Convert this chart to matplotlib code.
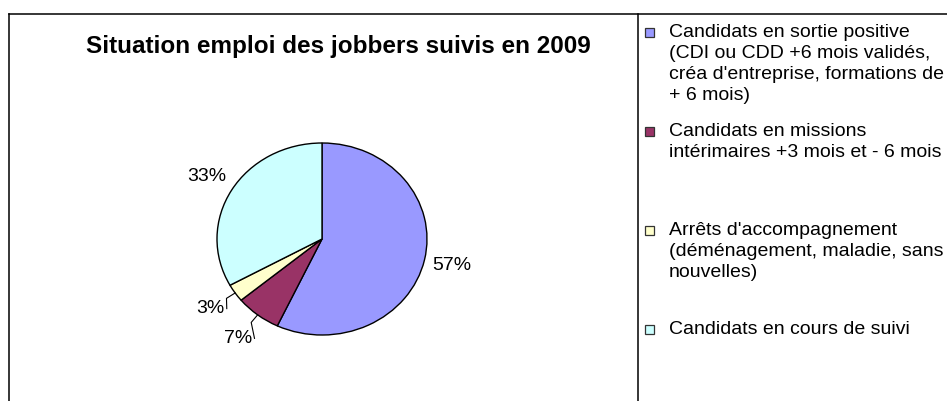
import matplotlib
matplotlib.use("Agg")
import matplotlib.pyplot as plt
from matplotlib.lines import Line2D
from matplotlib.patches import Rectangle
import numpy as np

plt.rcParams['font.family'] = ['Liberation Sans', 'DejaVu Sans']

title = "Situation emploi des jobbers suivis en 2009"
categories = [
    "Candidats en sortie positive\n(CDI ou CDD +6 mois validés,\ncréa d'entreprise, formations de\n+ 6 mois)",
    "Candidats en missions\nintérimaires +3 mois et - 6 mois",
    "Arrêts d'accompagnement\n(déménagement, maladie, sans\nnouvelles)",
    "Candidats en cours de suivi",
]
values = [57, 7, 3, 33]
colors = ["#9999FF", "#993366", "#FFFFCC", "#CCFFFF"]

W, H = 947, 401
fig = plt.figure(figsize=(W / 100, H / 100), dpi=100)

def fx(px):
    return px / W

def fy(py):
    return 1 - py / H

# frame lines
for (x0, y0, x1, y1) in [(9, 14, 947, 14), (9, 14, 9, 401), (638, 14, 638, 401)]:
    fig.add_artist(Line2D([fx(x0), fx(x1)], [fy(y0), fy(y1)], color="#000000", lw=1.1,
                          transform=fig.transFigure))

# title
fig.text(fx(338), fy(46), title, ha="center", va="center", fontsize=17.5, fontweight="bold")

# pie axes
cx, cy, rx, ry = 322, 239, 105, 96
aw, ah = 340, 260
ax = fig.add_axes([fx(cx - aw / 2), fy(cy + ah / 2), aw / W, ah / H])
wedges, _ = ax.pie(values, colors=colors, startangle=90, counterclock=False,
                   wedgeprops=dict(edgecolor="black", linewidth=1.0))
ax.set_aspect("auto")
ax.set_xlim(-aw / 2 / rx, aw / 2 / rx)
ax.set_ylim(-ah / 2 / ry, ah / 2 / ry)
ax.axis("off")

label_dist = [1.27, 1.31, 1.29, 1.27]
leader = [False, True, True, False]
for w, v, d, lead in zip(wedges, values, label_dist, leader):
    ang = np.deg2rad((w.theta1 + w.theta2) / 2)
    tx, ty = d * np.cos(ang), d * np.sin(ang)
    ax.text(tx, ty, f"{v}%", ha="center", va="center", fontsize=14)
    if lead:
        ex, ey = np.cos(ang), np.sin(ang)
        mx, my = 1.1 * np.cos(ang), 1.1 * np.sin(ang)
        ax.plot([ex, mx, tx + 0.16], [ey, my, ty], color="black", lw=0.8)

# legend
leg_x_sq = 645
leg_x_txt = 669
leg_y0 = 32
leg_step = 99
for i, (lab, col) in enumerate(zip(categories, colors)):
    y = leg_y0 + i * leg_step
    fig.add_artist(Rectangle((fx(leg_x_sq), fy(y + 4.5)), 8.5 / W, 8.5 / H, facecolor=col,
                             edgecolor="#333333", lw=0.9, transform=fig.transFigure))
    fig.text(fx(leg_x_txt), fy(y - 8), lab, ha="left", va="top", fontsize=14,
             linespacing=1.3)

fig.savefig("out.png", dpi=100)
